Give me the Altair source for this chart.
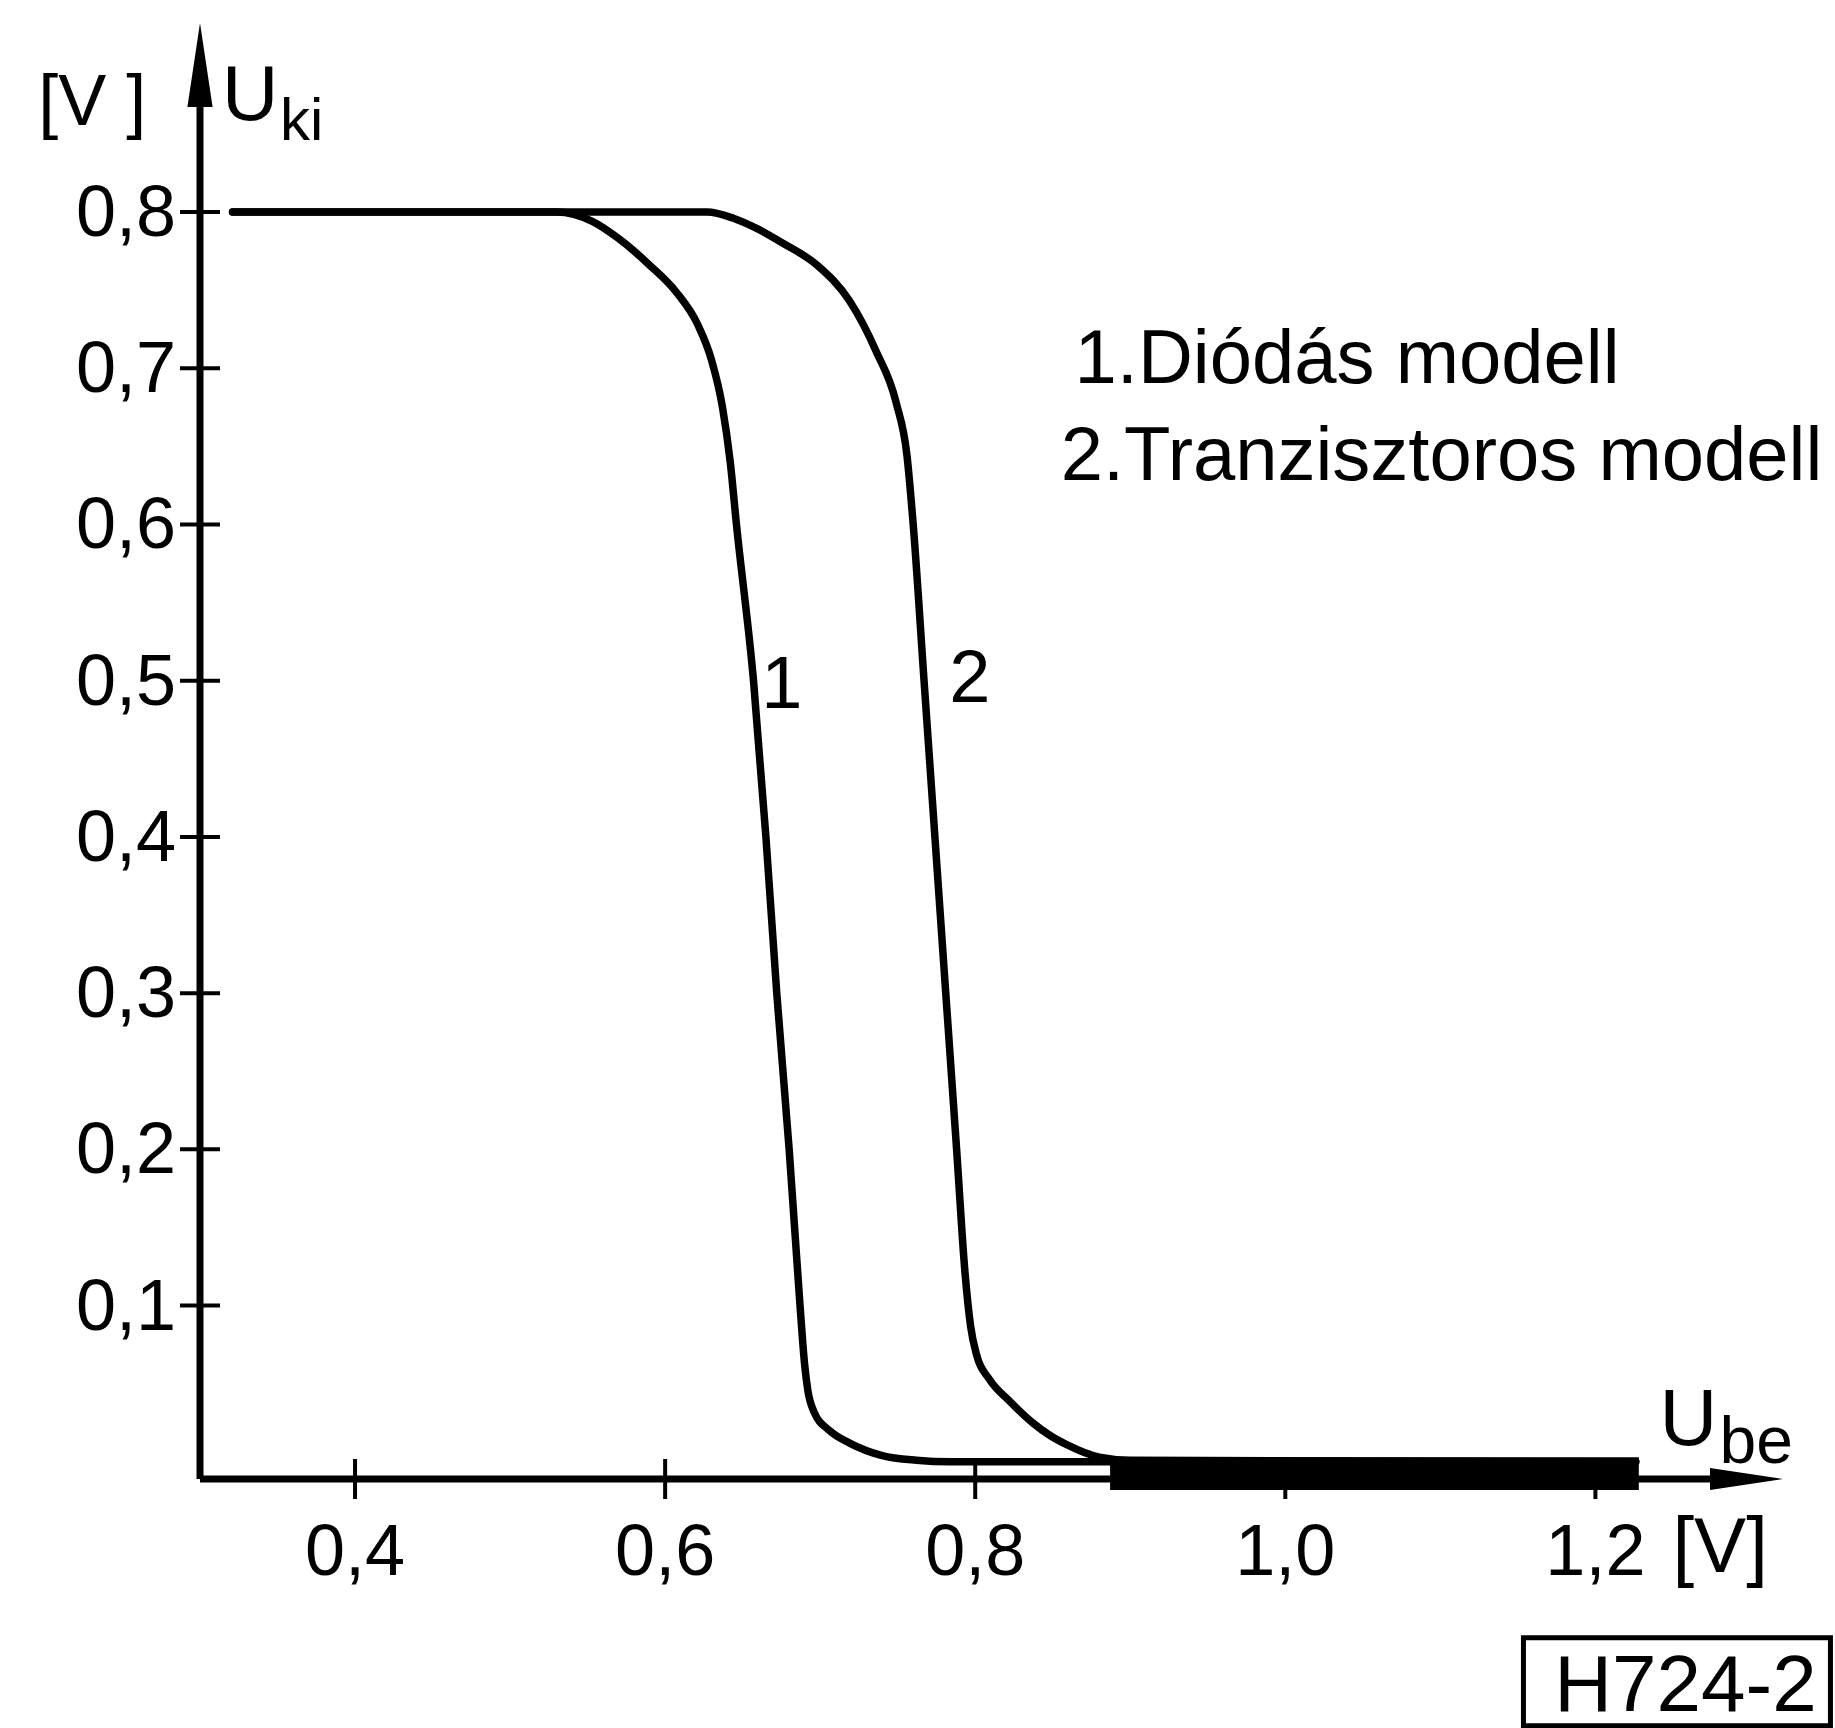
import altair as alt
import pandas as pd

# Transfer characteristic U_ki(U_be) of the two gate models
diode_ube = [0.321, 0.450, 0.530, 0.553, 0.570, 0.590, 0.607, 0.621, 0.630, 0.637,
             0.642, 0.646, 0.657, 0.665, 0.672, 0.680, 0.687, 0.690, 0.692, 0.696,
             0.706, 0.719, 0.740, 0.762, 0.784, 1.226]
diode_uki = [0.800, 0.800, 0.800, 0.794, 0.783, 0.766, 0.749, 0.728, 0.705, 0.675,
             0.640, 0.600, 0.500, 0.400, 0.300, 0.200, 0.100, 0.062, 0.046, 0.032,
             0.020, 0.012, 0.004, 0.001, 0.000, 0.000]

trans_ube = [0.321, 0.500, 0.627, 0.644, 0.660, 0.676, 0.698, 0.719, 0.736, 0.749,
             0.756, 0.760, 0.767, 0.774, 0.781, 0.788, 0.7935, 0.797, 0.801, 0.809,
             0.822, 0.837, 0.848, 0.859, 0.880, 0.900, 1.226]
trans_uki = [0.800, 0.800, 0.800, 0.796, 0.789, 0.780, 0.766, 0.743, 0.711, 0.678,
             0.644, 0.600, 0.500, 0.400, 0.300, 0.200, 0.120, 0.087, 0.068, 0.053,
             0.039, 0.025, 0.017, 0.011, 0.003, 0.001, 0.000]

# Saturated region where both curves run together on the axis
band_ube = [0.887, 1.228]
band_uki = [-0.018, 0.003]

x_ticks = [0.4, 0.6, 0.8, 1.0, 1.2]
x_tick_labels = ["0,4", "0,6", "0,8", "1,0", "1,2"]
y_ticks = [0.1, 0.2, 0.3, 0.4, 0.5, 0.6, 0.7, 0.8]
y_tick_labels = ["0,1", "0,2", "0,3", "0,4", "0,5", "0,6", "0,7", "0,8"]

legend_lines = ["1.Diódás modell", "2.Tranzisztoros modell"]
curve_numbers = ["1", "2"]
figure_code = "H724-2"

X_MIN, X_MAX = 0.3, 1.321
Y_MIN, Y_MAX = -0.011, 0.921
FONT = "Liberation Sans"
INK = "black"

xs = alt.Scale(domain=[X_MIN, X_MAX], nice=False, zero=False)
ys = alt.Scale(domain=[Y_MIN, Y_MAX], nice=False, zero=False)


def X(field):
    return alt.X(field, scale=xs, axis=None)


def Y(field):
    return alt.Y(field, scale=ys, axis=None)


curve_df = pd.concat([
    pd.DataFrame({"ube": diode_ube, "uki": diode_uki, "model": "1"}),
    pd.DataFrame({"ube": trans_ube, "uki": trans_uki, "model": "2"}),
])

curves = alt.Chart(curve_df).mark_line(
    color=INK, strokeWidth=7.5, interpolate="monotone",
    strokeCap="round", strokeJoin="round"
).encode(
    x=X("ube:Q"),
    y=Y("uki:Q"),
    detail="model:N",
)

band = alt.Chart(pd.DataFrame({
    "x0": [band_ube[0]], "x1": [band_ube[1]],
    "y0": [band_uki[0]], "y1": [band_uki[1]],
})).mark_rect(color=INK).encode(
    x=X("x0:Q"), x2="x1", y=Y("y0:Q"), y2="y1"
)

# Axis lines
axes_df = pd.DataFrame({
    "x0": [X_MIN, X_MIN], "x1": [X_MIN, 1.28],
    "y0": [Y_MIN, Y_MIN], "y1": [0.872, Y_MIN],
})
axis_lines = alt.Chart(axes_df).mark_rule(color=INK, strokeWidth=7).encode(
    x=X("x0:Q"), x2="x1", y=Y("y0:Q"), y2="y1"
)

# Tick marks crossing the axes
ytick_df = pd.DataFrame({"x": [X_MIN] * len(y_ticks), "y": y_ticks, "label": y_tick_labels})
xtick_df = pd.DataFrame({"x": x_ticks, "y": [Y_MIN] * len(x_ticks), "label": x_tick_labels})

ytick_marks = alt.Chart(ytick_df).mark_tick(
    orient="horizontal", size=40, thickness=4, color=INK, opacity=1
).encode(x=X("x:Q"), y=Y("y:Q"))

xtick_marks = alt.Chart(xtick_df).mark_tick(
    orient="vertical", size=40, thickness=4, color=INK, opacity=1
).encode(x=X("x:Q"), y=Y("y:Q"))

# Tick labels, decimal comma
ytick_labels = alt.Chart(ytick_df).mark_text(
    align="right", baseline="alphabetic", dx=-24, dy=24,
    font=FONT, fontSize=72, color=INK
).encode(x=X("x:Q"), y=Y("y:Q"), text="label:N")

xtick_labels = alt.Chart(xtick_df).mark_text(
    align="center", baseline="alphabetic", dy=96,
    font=FONT, fontSize=72, color=INK
).encode(x=X("x:Q"), y=Y("y:Q"), text="label:N")

# Arrowheads at the axis ends
up_arrow = alt.Chart(pd.DataFrame({"x": [X_MIN], "y": [Y_MAX]})).mark_point(
    shape="M0,0L0.3,2L-0.3,2Z", size=7056, filled=True, fill=INK,
    strokeWidth=0, opacity=1
).encode(x=X("x:Q"), y=Y("y:Q"))

right_arrow = alt.Chart(pd.DataFrame({"x": [X_MAX], "y": [Y_MIN]})).mark_point(
    shape="M0,0L-2,-0.3L-2,0.3Z", size=5329, filled=True, fill=INK,
    strokeWidth=0, opacity=1
).encode(x=X("x:Q"), y=Y("y:Q"))

# Axis titles, units and legend text (left aligned)
notes_left = pd.DataFrame({
    "x": [0.1956, 0.3142, 0.3516, 0.8641, 0.8551, 1.2413, 1.2800, 1.2497],
    "y": [0.856, 0.859, 0.846, 0.6906, 0.6285, 0.0109, -0.0006, -0.0704],
    "text": ["[V ]", "U", "ki", legend_lines[0], legend_lines[1], "U", "be", "[V]"],
    "fs": [72, 78, 60, 76, 76, 80, 66, 78],
})
left_text = alt.Chart(notes_left).mark_text(
    align="left", baseline="alphabetic", font=FONT, color=INK
).encode(
    x=X("x:Q"), y=Y("y:Q"), text="text:N", size=alt.Size("fs:Q", scale=None)
)

# Curve numbers and figure code (centered)
notes_center = pd.DataFrame({
    "x": [0.6752, 0.7965, 1.2581],
    "y": [0.4826, 0.4864, -0.1594],
    "text": [curve_numbers[0], curve_numbers[1], figure_code],
    "fs": [74, 74, 80],
})
center_text = alt.Chart(notes_center).mark_text(
    align="center", baseline="alphabetic", font=FONT, color=INK
).encode(
    x=X("x:Q"), y=Y("y:Q"), text="text:N", size=alt.Size("fs:Q", scale=None)
)

code_box = alt.Chart(pd.DataFrame({
    "x0": [1.1536], "x1": [1.3516], "y0": [-0.1126], "y1": [-0.169]
})).mark_rect(filled=False, stroke=INK, strokeWidth=5).encode(
    x=X("x0:Q"), x2="x1", y=Y("y0:Q"), y2="y1"
)

chart = alt.layer(
    curves, band, axis_lines, ytick_marks, xtick_marks, ytick_labels, xtick_labels,
    up_arrow, right_arrow, left_text, center_text, code_box
).properties(
    width=1583,
    height=1456,
    padding={"left": 200, "top": 23, "right": 52, "bottom": 249},
    autosize=alt.AutoSizeParams(type="none"),
    background="white",
).configure_view(stroke=None)

chart.save("out.html", embed_options={"renderer": "svg", "actions": False})
